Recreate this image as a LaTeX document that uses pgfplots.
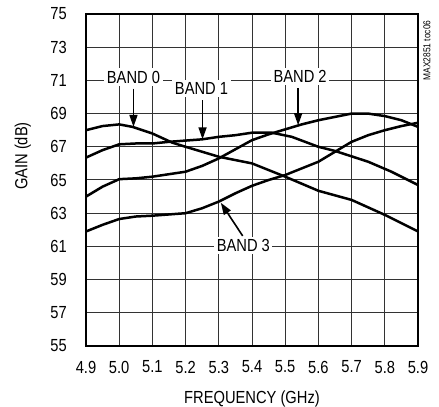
\documentclass[border=0pt]{standalone}
\usepackage{pgfplots}
\pgfplotsset{compat=1.18}
\usepackage{fontspec}
\setmainfont{Liberation Sans}[FakeStretch=0.84]
\usetikzlibrary{arrows.meta}
\begin{document}
\begin{tikzpicture}[font=\fontsize{17.5bp}{20bp}\selectfont]
\begin{axis}[
  scale only axis, width=332bp, height=332bp,
  xmin=4.9, xmax=5.9, ymin=55, ymax=75,
  xtick={4.9,5.0,5.1,5.2,5.3,5.4,5.5,5.6,5.7,5.8,5.9},
  ytick={55,57,59,61,63,65,67,69,71,73,75},
  xmajorgrids=true, ymajorgrids=true,
  major grid style={line width=1bp, black!80},
  axis line style={line width=2.6bp, black},
  major tick length=0.01pt,
  clip=false,
  /pgf/number format/assume math mode=true,
  xticklabel style={/pgf/number format/fixed, /pgf/number format/fixed zerofill, /pgf/number format/precision=1},
  x tick label style={anchor=center, yshift=-21bp},
  y tick label style={anchor=east, inner sep=0pt, xshift=-19bp},
  xlabel={FREQUENCY (GHz)},
  xlabel style={at={(axis description cs:0.5,0)}, anchor=center, yshift=-53bp},
  ylabel={GAIN (dB)},
  ylabel style={at={(axis description cs:-0.19,0.572)}, anchor=center},
]
% BAND 0
\addplot[black, line width=2.5bp, no marks] coordinates {(4.90,68.0) (4.95,68.25) (5.00,68.35) (5.04,68.2) (5.10,67.8) (5.16,67.25) (5.20,67.0) (5.30,66.4) (5.40,66.0) (5.45,65.6) (5.50,65.2) (5.60,64.35) (5.70,63.8) (5.80,62.9) (5.90,61.9)};
% BAND 1
\addplot[black, line width=2.5bp, no marks] coordinates {(4.90,66.35) (4.95,66.8) (5.00,67.15) (5.05,67.2) (5.10,67.2) (5.15,67.3) (5.25,67.45) (5.30,67.6) (5.35,67.7) (5.40,67.85) (5.46,67.85) (5.52,67.6) (5.60,67.0) (5.65,66.75) (5.75,66.1) (5.82,65.5) (5.90,64.7)};
% BAND 2
\addplot[black, line width=2.5bp, no marks] coordinates {(4.90,64.0) (4.95,64.6) (5.00,65.05) (5.05,65.1) (5.10,65.2) (5.20,65.5) (5.25,65.85) (5.30,66.3) (5.35,66.85) (5.40,67.4) (5.45,67.75) (5.50,68.05) (5.55,68.35) (5.60,68.6) (5.65,68.8) (5.70,69.0) (5.75,69.0) (5.80,68.85) (5.85,68.6) (5.90,68.2)};
% BAND 3
\addplot[black, line width=2.5bp, no marks] coordinates {(4.90,61.9) (4.95,62.3) (5.00,62.65) (5.05,62.8) (5.10,62.85) (5.20,63.0) (5.25,63.3) (5.30,63.7) (5.35,64.2) (5.40,64.65) (5.45,65.0) (5.50,65.3) (5.55,65.7) (5.60,66.1) (5.65,66.7) (5.70,67.3) (5.75,67.7) (5.80,68.0) (5.85,68.25) (5.90,68.45)};
% annotations
\node[fill=white, inner sep=2.5bp] at (axis cs:5.043,71.2) {BAND 0};
\node[fill=white, inner sep=2.5bp] at (axis cs:5.248,70.52) {BAND 1};
\node[fill=white, inner sep=2.5bp] at (axis cs:5.545,71.23) {BAND 2};
\node[fill=white, inner sep=2.5bp] at (axis cs:5.374,61.04) {BAND 3};
\draw[line width=1.6bp, -{Triangle[length=12bp,width=8bp]}] (axis cs:5.043,70.5) -- (axis cs:5.043,68.2);
\draw[line width=1.6bp, -{Triangle[length=12bp,width=8bp]}] (axis cs:5.251,69.8) -- (axis cs:5.251,67.45);
\draw[line width=1.6bp, -{Triangle[length=12bp,width=8bp]}] (axis cs:5.539,70.54) -- (axis cs:5.539,68.3);
\draw[line width=1.6bp, -{Triangle[length=12bp,width=8bp]}] (axis cs:5.372,61.63) -- (axis cs:5.306,63.63);
\node[rotate=90, font=\fontsize{10bp}{12bp}\selectfont, anchor=center] at (axis description cs:1.027,0.89) {MAX2851 toc06};
\end{axis}
\pgfresetboundingbox
\path[use as bounding box] (-86bp,-61bp) rectangle (353bp,346bp);
\end{tikzpicture}
\end{document}
